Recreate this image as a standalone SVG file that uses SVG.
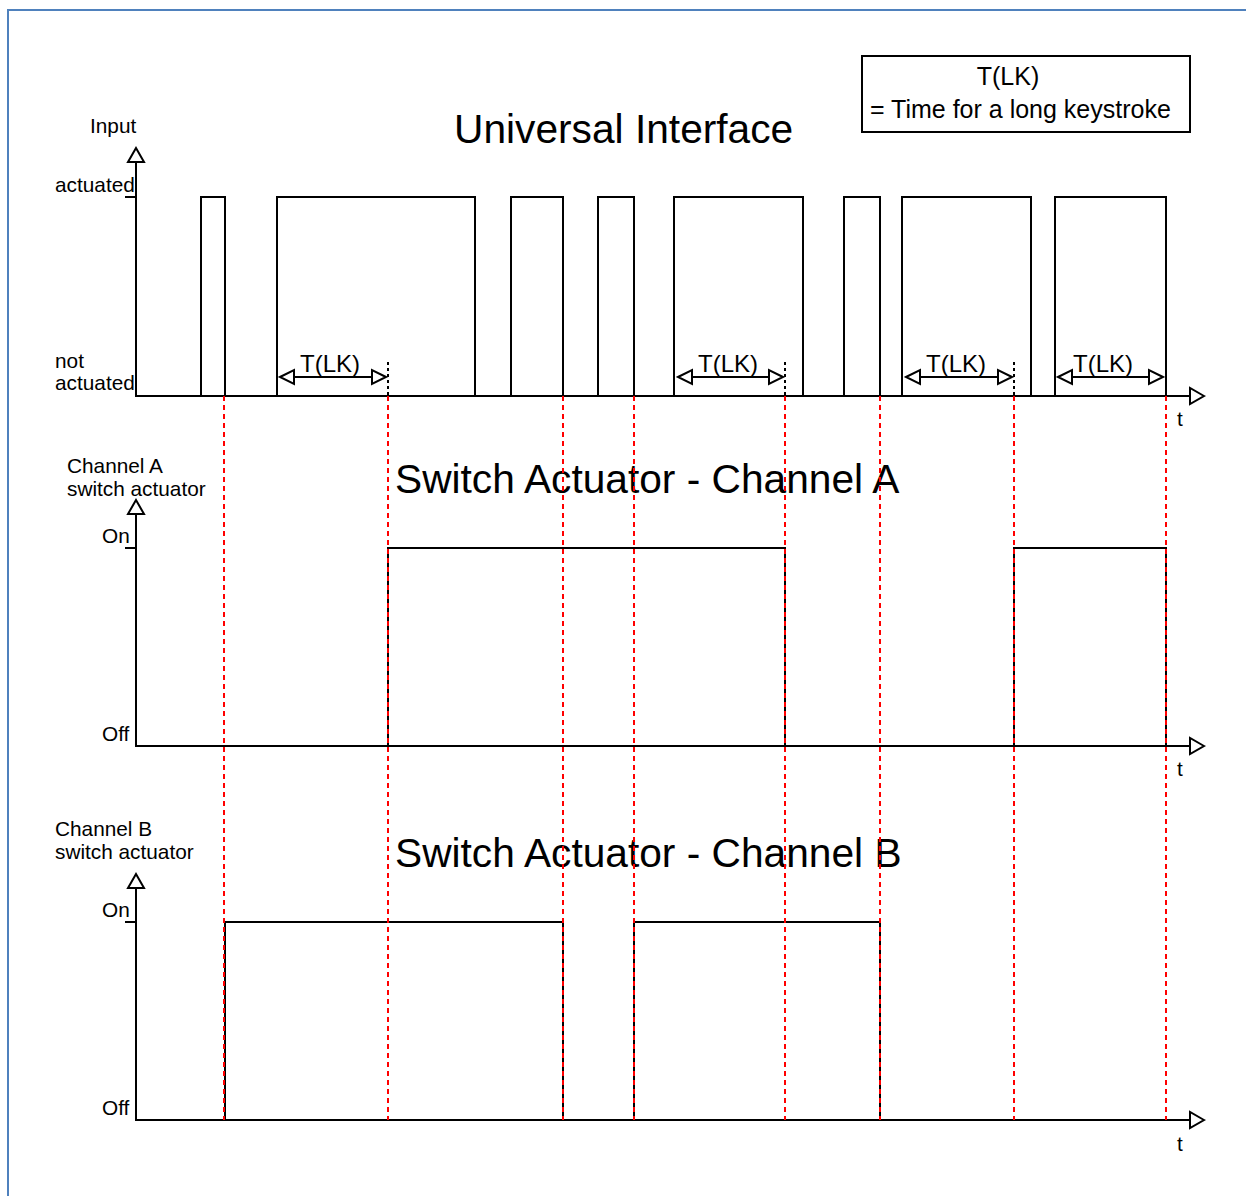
<svg xmlns="http://www.w3.org/2000/svg" width="1246" height="1196" viewBox="0 0 1246 1196">
<style>
  text { font-family: "Liberation Sans", Arial, sans-serif; fill: #000; }
  .lbl { font-size: 20.8px; }
  .title { font-size: 40.7px; }
  .leg { font-size: 25px; }
  .tlk { font-size: 24px; }
  .ax { stroke: #000; stroke-width: 2; fill: none; }
  .sig { stroke: #000; stroke-width: 2; fill: none; }
  .ah { stroke: #000; stroke-width: 2; fill: #fff; stroke-linejoin: miter; }
  .red { stroke: #ff0000; stroke-width: 2; stroke-dasharray: 5 4; fill: none; }
  .blk { stroke: #000; stroke-width: 2; stroke-dasharray: 3 3; fill: none; }
</style>
<rect width="1246" height="1196" fill="#fff"/>
<path d="M8 1196 V10 H1246" stroke="#4f81bd" stroke-width="2" fill="none"/>

<g id="legend">
  <rect x="862" y="56" width="328" height="76" fill="#fff" stroke="#000" stroke-width="2"/>
  <text class="leg" x="1008" y="85" text-anchor="middle">T(LK)</text>
  <text class="leg" x="870" y="118">= Time for a long keystroke</text>
</g>

<g id="input-chart">
  <text class="title" x="454" y="143">Universal Interface</text>
  <text class="lbl" x="90" y="133">Input</text>
  <text class="lbl" x="55" y="192">actuated</text>
  <text class="lbl" x="55" y="368">not</text>
  <text class="lbl" x="55" y="390">actuated</text>
  <text class="lbl" x="1177" y="426">t</text>
  <path class="ax" d="M136 162 V396 H1190"/>
  <path class="ax" d="M125 197 H136"/>
  <polygon class="ah" points="136,148 128,162 144,162"/>
  <polygon class="ah" points="1204,396 1190,388 1190,404"/>
  <path class="sig" d="M201 396 V197 H225 V396 M277 396 V197 H475 V396 M511 396 V197 H563 V396 M598 396 V197 H634 V396 M674 396 V197 H803 V396 M844 396 V197 H880 V396 M902 396 V197 H1031 V396 M1055 396 V197 H1166 V396"/>
  <g id="tlk-markers">
    <path class="sig" d="M294 377 H372 M692 377 H769 M920 377 H998 M1072 377 H1149"/>
    <polygon class="ah" points="280,377 294,370 294,384"/>
    <polygon class="ah" points="386,377 372,370 372,384"/>
    <polygon class="ah" points="678,377 692,370 692,384"/>
    <polygon class="ah" points="783,377 769,370 769,384"/>
    <polygon class="ah" points="906,377 920,370 920,384"/>
    <polygon class="ah" points="1012,377 998,370 998,384"/>
    <polygon class="ah" points="1058,377 1072,370 1072,384"/>
    <polygon class="ah" points="1163,377 1149,370 1149,384"/>
    <path class="blk" d="M388 362 V396 M785 362 V396 M1014 362 V396"/>
    <text class="tlk" x="330" y="372" text-anchor="middle">T(LK)</text>
    <text class="tlk" x="728" y="372" text-anchor="middle">T(LK)</text>
    <text class="tlk" x="956" y="372" text-anchor="middle">T(LK)</text>
    <text class="tlk" x="1103" y="372" text-anchor="middle">T(LK)</text>
  </g>
</g>

<g id="channel-a-chart">
  <text class="title" x="395" y="493">Switch Actuator - Channel A</text>
  <text class="lbl" x="67" y="473">Channel A</text>
  <text class="lbl" x="67" y="496">switch actuator</text>
  <text class="lbl" x="102" y="543">On</text>
  <text class="lbl" x="102" y="741">Off</text>
  <text class="lbl" x="1177" y="776">t</text>
  <path class="ax" d="M136 514 V746 H1190"/>
  <path class="ax" d="M125 548 H136"/>
  <polygon class="ah" points="136,500 128,514 144,514"/>
  <polygon class="ah" points="1204,746 1190,738 1190,754"/>
  <path class="sig" d="M388 746 V548 H785 V746 M1014 746 V548 H1166 V746"/>
</g>

<g id="channel-b-chart">
  <text class="title" x="395" y="867">Switch Actuator - Channel B</text>
  <text class="lbl" x="55" y="836">Channel B</text>
  <text class="lbl" x="55" y="859">switch actuator</text>
  <text class="lbl" x="102" y="917">On</text>
  <text class="lbl" x="102" y="1115">Off</text>
  <text class="lbl" x="1177" y="1151">t</text>
  <path class="ax" d="M136 888 V1120 H1190"/>
  <path class="ax" d="M125 922 H136"/>
  <polygon class="ah" points="136,874 128,888 144,888"/>
  <polygon class="ah" points="1204,1120 1190,1112 1190,1128"/>
  <path class="sig" d="M225 1120 V922 H563 V1120 M634 1120 V922 H880 V1120"/>
</g>

<g id="connectors">
  <path class="red" d="M224 396 V1120 M388 396 V1120 M563 396 V1120 M634 396 V1120 M785 396 V1120 M880 396 V1120 M1014 396 V1120 M1166 396 V1120"/>
</g>
</svg>
